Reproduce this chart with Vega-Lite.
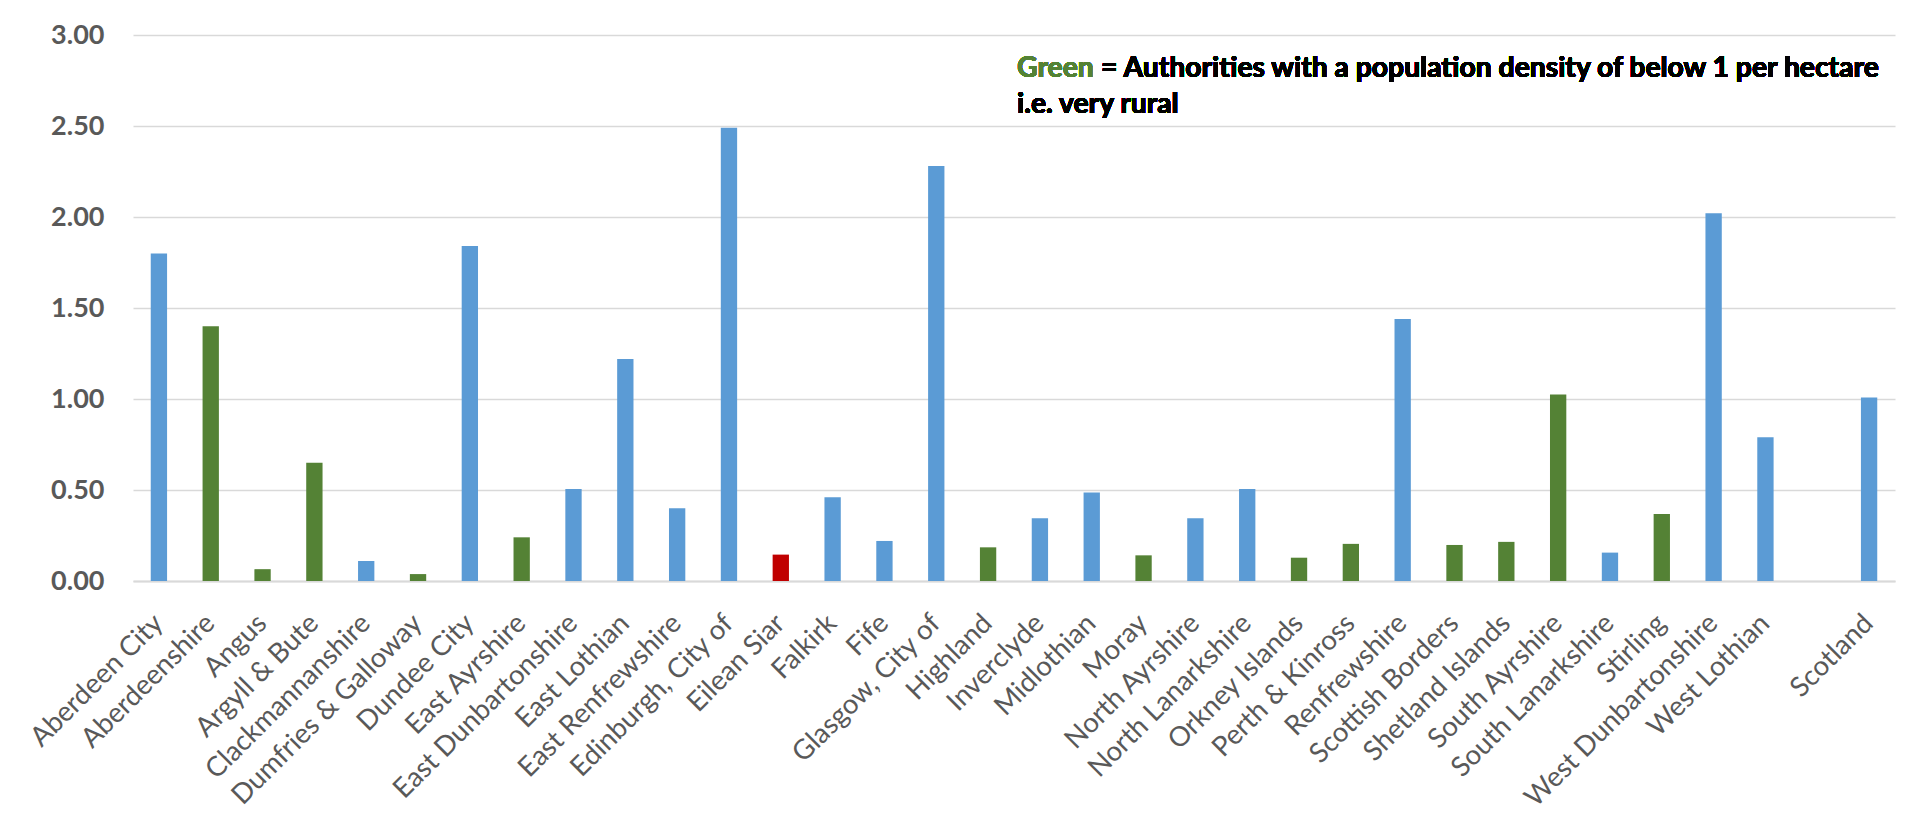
{
  "$schema": "https://vega.github.io/schema/vega-lite/v6.json",
  "width": 1762,
  "height": 546,
  "autosize": {"type": "none"},
  "padding": {"left": 133, "top": 35, "right": 28, "bottom": 241},
  "background": "white",
  "config": {"view": {"stroke": null}, "font": "Lato"},
  "data": {
    "values": [
      {"area": "Aberdeen City", "value": 1.80, "group": "urban"},
      {"area": "Aberdeenshire", "value": 1.40, "group": "rural"},
      {"area": "Angus", "value": 0.065, "group": "rural"},
      {"area": "Argyll & Bute", "value": 0.65, "group": "rural"},
      {"area": "Clackmannanshire", "value": 0.11, "group": "urban"},
      {"area": "Dumfries & Galloway", "value": 0.038, "group": "rural"},
      {"area": "Dundee City", "value": 1.84, "group": "urban"},
      {"area": "East Ayrshire", "value": 0.24, "group": "rural"},
      {"area": "East Dunbartonshire", "value": 0.505, "group": "urban"},
      {"area": "East Lothian", "value": 1.22, "group": "urban"},
      {"area": "East Renfrewshire", "value": 0.40, "group": "urban"},
      {"area": "Edinburgh, City of", "value": 2.49, "group": "urban"},
      {"area": "Eilean Siar", "value": 0.145, "group": "highlight"},
      {"area": "Falkirk", "value": 0.46, "group": "urban"},
      {"area": "Fife", "value": 0.22, "group": "urban"},
      {"area": "Glasgow, City of", "value": 2.28, "group": "urban"},
      {"area": "Highland", "value": 0.185, "group": "rural"},
      {"area": "Inverclyde", "value": 0.345, "group": "urban"},
      {"area": "Midlothian", "value": 0.486, "group": "urban"},
      {"area": "Moray", "value": 0.141, "group": "rural"},
      {"area": "North Ayrshire", "value": 0.345, "group": "urban"},
      {"area": "North Lanarkshire", "value": 0.505, "group": "urban"},
      {"area": "Orkney Islands", "value": 0.128, "group": "rural"},
      {"area": "Perth & Kinross", "value": 0.204, "group": "rural"},
      {"area": "Renfrewshire", "value": 1.44, "group": "urban"},
      {"area": "Scottish Borders", "value": 0.198, "group": "rural"},
      {"area": "Shetland Islands", "value": 0.215, "group": "rural"},
      {"area": "South Ayrshire", "value": 1.025, "group": "rural"},
      {"area": "South Lanarkshire", "value": 0.156, "group": "urban"},
      {"area": "Stirling", "value": 0.368, "group": "rural"},
      {"area": "West Dunbartonshire", "value": 2.02, "group": "urban"},
      {"area": "West Lothian", "value": 0.79, "group": "urban"},
      {"area": "Scotland", "value": 1.008, "group": "urban"}
    ]
  },
  "encoding": {
    "x": {
      "field": "area",
      "type": "nominal",
      "title": null,
      "scale": {
        "domain": ["Aberdeen City", "Aberdeenshire", "Angus", "Argyll & Bute", "Clackmannanshire", "Dumfries & Galloway", "Dundee City", "East Ayrshire", "East Dunbartonshire", "East Lothian", "East Renfrewshire", "Edinburgh, City of", "Eilean Siar", "Falkirk", "Fife", "Glasgow, City of", "Highland", "Inverclyde", "Midlothian", "Moray", "North Ayrshire", "North Lanarkshire", "Orkney Islands", "Perth & Kinross", "Renfrewshire", "Scottish Borders", "Shetland Islands", "South Ayrshire", "South Lanarkshire", "Stirling", "West Dunbartonshire", "West Lothian", "", "Scotland"],
        "paddingInner": 0.685,
        "paddingOuter": 0.3425
      },
      "axis": {
        "labelAngle": -45,
        "labelAlign": "right",
        "labelBaseline": "top",
        "labelPadding": 28,
        "labelOffset": -10,
        "labelFont": "Lato",
        "labelFontSize": 27.5,
        "labelColor": "#595959",
        "labelLimit": 400,
        "labelOverlap": false,
        "ticks": false,
        "domainColor": "#D9D9D9",
        "domainWidth": 2,
        "grid": false
      }
    }
  },
  "layer": [
    {
      "mark": {"type": "bar"},
      "encoding": {
        "y": {
          "field": "value",
          "type": "quantitative",
          "title": null,
          "scale": {"domain": [0, 3], "nice": false},
          "axis": {
            "values": [0, 0.5, 1, 1.5, 2, 2.5, 3],
            "format": ".2f",
            "labelFont": "Lato",
            "labelFontSize": 27,
            "labelFontWeight": "bold",
            "labelColor": "#595959",
            "labelPadding": 29,
            "ticks": false,
            "domain": false,
            "gridColor": "#D9D9D9",
            "gridWidth": 1.5
          }
        },
        "color": {
          "field": "group",
          "type": "nominal",
          "scale": {"domain": ["urban", "rural", "highlight"], "range": ["#5B9BD5", "#548235", "#C00000"]},
          "legend": null
        }
      }
    },
    {
      "mark": {"type": "text", "text": "Green", "align": "left", "baseline": "alphabetic", "dx": 29, "font": "Lato", "fontSize": 28.3, "fontWeight": "bold", "color": "#548235"},
      "encoding": {"x": {"datum": "Highland"}, "y": {"datum": 2.77}}
    },
    {
      "mark": {"type": "text", "text": "= Authorities with a population density of below 1 per hectare", "align": "left", "baseline": "alphabetic", "dx": 113, "font": "Lato", "fontSize": 28.3, "fontWeight": "bold", "color": "#000000"},
      "encoding": {"x": {"datum": "Highland"}, "y": {"datum": 2.77}}
    },
    {
      "mark": {"type": "text", "text": "i.e. very rural", "align": "left", "baseline": "alphabetic", "dx": 29, "font": "Lato", "fontSize": 28.3, "fontWeight": "bold", "color": "#000000"},
      "encoding": {"x": {"datum": "Highland"}, "y": {"datum": 2.57}}
    }
  ]
}
